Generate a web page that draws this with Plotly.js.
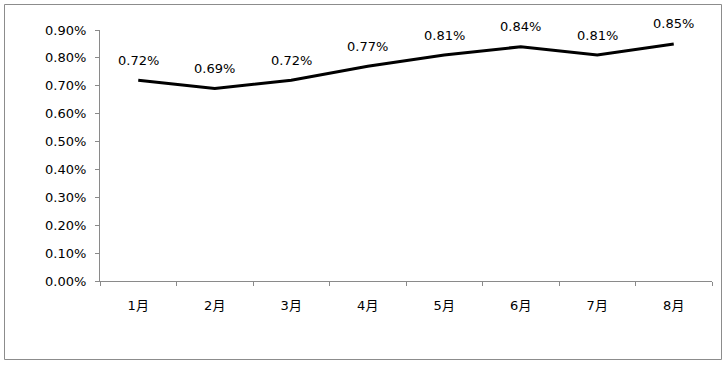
<!DOCTYPE html>
<html><head><meta charset="utf-8">
<script src="https://cdn.plot.ly/plotly-3.0.1.min.js"></script>
<style>html,body{margin:0;padding:0;background:#fff}#c{width:728px;height:367px}</style>
</head><body><div id="c"></div>
<script>
const months = ['1月','2月','3月','4月','5月','6月','7月','8月'];
const rates = [0.0072,0.0069,0.0072,0.0077,0.0081,0.0084,0.0081,0.0085];
const labels = ['0.72%','0.69%','0.72%','0.77%','0.81%','0.84%','0.81%','0.85%'];
const yTicks = [0,0.001,0.002,0.003,0.004,0.005,0.006,0.007,0.008,0.009];

const font = {family:'DejaVu Sans, Noto Sans CJK SC, sans-serif', size:13, color:'#000'};
const axisColor = '#8a8a8a';

const trace = {x:months, y:rates, type:'scatter', mode:'lines',
  line:{color:'#000', width:3}, hoverinfo:'skip'};

const annotations = months.map((m,i)=>({x:m, y:rates[i], xref:'x', yref:'y',
  text:labels[i], showarrow:false, yshift:20, font:font}));

const layout = {
  width:728, height:367,
  margin:{l:100, r:16, t:30, b:86},
  paper_bgcolor:'#fff', plot_bgcolor:'#fff',
  font:font, showlegend:false,
  xaxis:{type:'category', range:[-0.5,7.5], showgrid:false, zeroline:false,
    showline:true, linecolor:axisColor, linewidth:1,
    ticks:'outside', tickson:'boundaries', ticklen:4, tickcolor:axisColor,
    ticklabelstandoff:12, tickfont:font, fixedrange:true},
  yaxis:{range:[0,0.009], tickvals:yTicks, tickformat:'.2%', showgrid:false, zeroline:false,
    showline:true, linecolor:axisColor, linewidth:1,
    ticks:'outside', ticklen:4, tickcolor:axisColor, tickfont:font, ticklabelstandoff:6,
    fixedrange:true},
  annotations:annotations,
  shapes:[{type:'rect', xref:'paper', yref:'paper',
    x0:(4.5-100)/612, x1:(721.5-100)/612, y0:(281-359.5)/251, y1:(281-4.5)/251,
    line:{color:'#8c8c8c', width:1}, fillcolor:'rgba(0,0,0,0)', layer:'below'}]
};
Plotly.newPlot('c',[trace],layout,{displayModeBar:false, staticPlot:true});
</script></body></html>
